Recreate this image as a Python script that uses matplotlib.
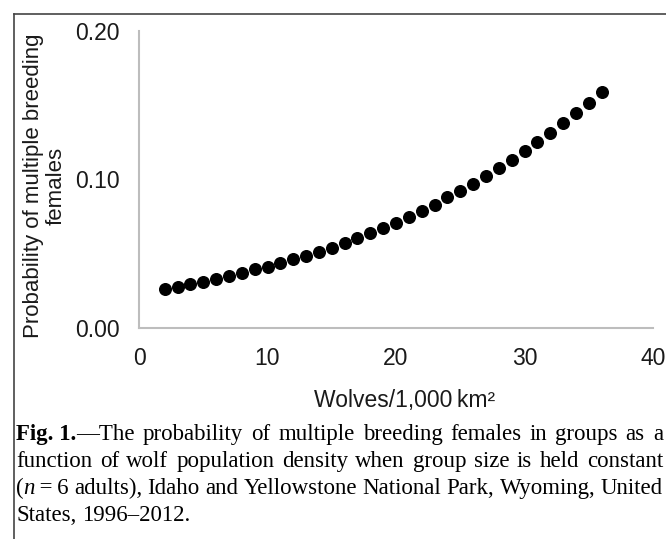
import numpy as np
import matplotlib.pyplot as plt
from matplotlib.lines import Line2D

# wolves per 1,000 km2 and modelled probability of multiple breeding females
density = list(range(2, 37))
prob = [0.0260, 0.0278, 0.0294, 0.0312, 0.0330, 0.0350, 0.0368, 0.0395,
        0.0413, 0.0440, 0.0462, 0.0485, 0.0510, 0.0541, 0.0575, 0.0604,
        0.0638, 0.0671, 0.0705, 0.0750, 0.0790, 0.0828, 0.0880, 0.0923,
        0.0970, 0.1024, 0.1077, 0.1134, 0.1190, 0.1250, 0.1315, 0.1383,
        0.1450, 0.1517, 0.1591]
xticks = [0, 10, 20, 30, 40]
yticks = [0.0, 0.1, 0.2]

sans = ['Liberation Sans', 'DejaVu Sans']
serif = ['Liberation Serif', 'DejaVu Serif']

fig = plt.figure(figsize=(6.66, 5.39), dpi=100)
W, H = 666.0, 539.0
ax = fig.add_axes([139 / W, 1 - 328 / H, (653 - 139) / W, (328 - 31) / H])

ax.scatter(density, prob, s=70, color='black', zorder=3, clip_on=False)

ax.set_xlim(0, 40)
ax.set_ylim(0, 0.2)
ax.set_xticks(xticks)
ax.set_yticks(yticks)
ax.set_xticklabels([str(t) for t in xticks])
ax.set_yticklabels(['%.2f' % t for t in yticks])
for lab in ax.get_xticklabels() + ax.get_yticklabels():
    lab.set_family(sans)
    lab.set_fontsize(16.5)
    lab.set_color('#1a1a1a')
ax.tick_params(length=0, pad=14)

for s in ['top', 'right']:
    ax.spines[s].set_visible(False)
for s in ['left', 'bottom']:
    ax.spines[s].set_color('#bdbdbd')
    ax.spines[s].set_linewidth(1.5)

# axis titles
fig.text(45 / W, 1 - 186 / H, 'Probability of multiple breeding\nfemales',
         rotation=90, ha='center', va='center', multialignment='center',
         family=sans, fontsize=16, color='#1a1a1a', linespacing=1.1)
fig.text(405 / W, 1 - 401 / H, 'Wolves/1,000\u2009km\u00b2', ha='center', va='center',
         family=sans, fontsize=16.5, color='#1a1a1a')

# frame of the scanned page
fig.add_artist(Line2D([14 / W, 1], [1 - 14 / H, 1 - 14 / H], transform=fig.transFigure,
                      color='#444444', lw=1.2))
fig.add_artist(Line2D([14 / W, 14 / W], [1 - 14 / H, 0], transform=fig.transFigure,
                      color='#444444', lw=1.2))

# caption, justified like the printed page
CAP = 16.5
REG = dict(family=serif, fontsize=CAP)
BOLD = dict(family=serif, fontsize=CAP, weight='bold')
ITAL = dict(family=serif, fontsize=CAP, style='italic')
renderer = fig.canvas.get_renderer()


def seg_width(txt, props):
    t = fig.text(0, 0, txt, **props)
    w = t.get_window_extent(renderer).width
    t.remove()
    return w


def caption_line(words, y_px, x0=16, x1=None):
    widths = [sum(seg_width(s, p) for s, p in word) for word in words]
    if x1 is None:
        gap = seg_width(' ', REG)
    else:
        gap = (x1 - x0 - sum(widths)) / (len(words) - 1)
    x = x0
    for word, w in zip(words, widths):
        xs = x
        for s, p in word:
            fig.text(xs / W, 1 - y_px / H, s, va='baseline', ha='left', **p)
            xs += seg_width(s, p)
        x += w + gap


def plain(text):
    return [[(w, REG)] for w in text.split(' ')]


line1 = [[('Fig. 1.', BOLD), ('\u2014The', REG)]] + \
    plain('probability of multiple breeding females in groups as a')
line2 = plain('function of wolf population density when group size is held constant')
line3 = [[('(', REG), ('n', ITAL), ('\u2009=\u20096', REG)]] + \
    plain('adults), Idaho and Yellowstone National Park, Wyoming, United')
line4 = plain('States, 1996\u20132012.')

caption_line(line1, 440, x1=663)
caption_line(line2, 467, x1=663)
caption_line(line3, 494, x1=663)
caption_line(line4, 521)

fig.savefig('out.png', dpi=100)
